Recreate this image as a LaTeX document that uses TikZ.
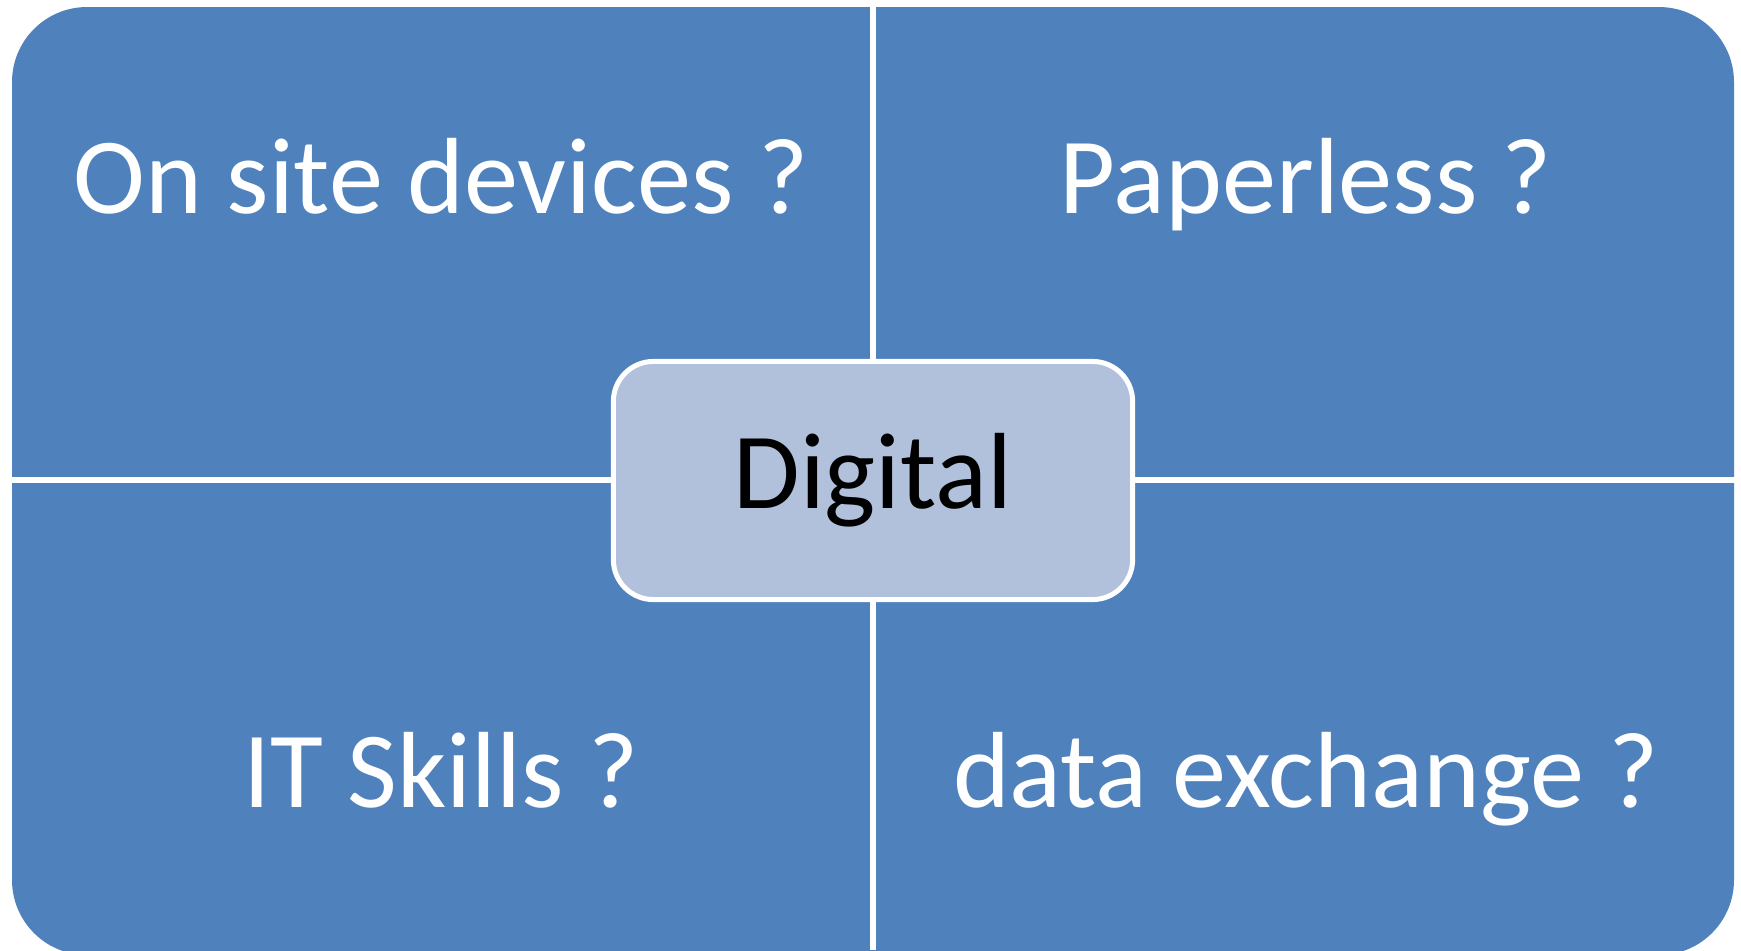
\documentclass[tikz,border=0pt]{standalone}
\usepackage{fontspec}
\setmainfont{Carlito}
\usetikzlibrary{positioning}
\definecolor{quadblue}{HTML}{4F81BD}
\definecolor{hubfill}{HTML}{B2C1DB}
\tikzset{
	quadlabel/.style={text=white, anchor=base, inner sep=0pt,
		font=\fontsize{30.8}{36}\selectfont},
	hubbox/.style={rectangle, rounded corners=0.4cm, draw=white, line width=0.05cm,
		fill=hubfill, minimum width=5.19cm, minimum height=2.38cm, inner sep=0pt,
		text=black, font=\fontsize{30.8}{36}\selectfont},
	divider/.style={draw=white, line width=0.06cm}
}

\begin{document}
\begin{tikzpicture}[x=0.01cm, y=-0.01cm]
	\useasboundingbox (0,0) rectangle (1741,950);
	\clip (0,0) rectangle (1741,950);
	\fill[quadblue, rounded corners=0.75cm] (12,7) rectangle (1734,955);
	\coordinate (mtop) at (873,0);
	\coordinate (mbot) at (873,950);
	\coordinate (mleft) at (0,480);
	\coordinate (mright) at (1741,480);
	\draw[divider] (mtop) -- (mbot);
	\draw[divider] (mleft) -- (mright);
	\node[quadlabel] (devices) at (441,213) {On site devices ?};
	\node[quadlabel] (paper) at (1306,213) {Paperless ?};
	\node[quadlabel] (skills) at (441,807) {IT Skills ?};
	\node[quadlabel] (exchange) at (1306,807) {data exchange ?};
	\node[hubbox] (digital) at (873,480.5) {Digital};
\end{tikzpicture}
\end{document}
